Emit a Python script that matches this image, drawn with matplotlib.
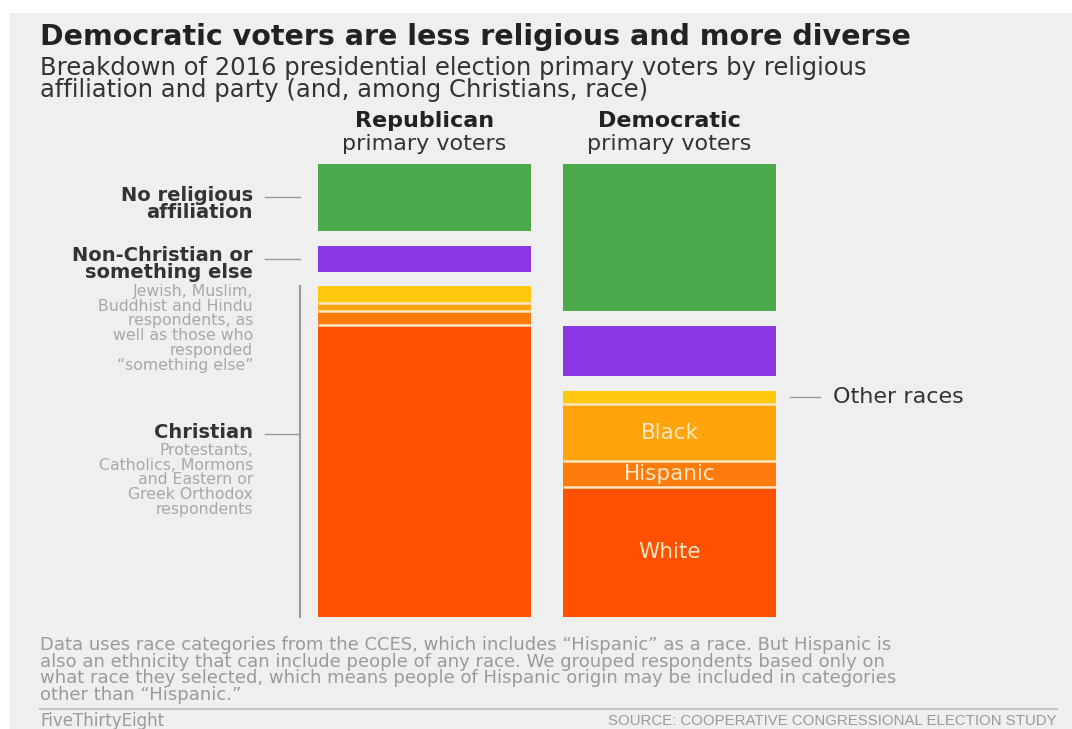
import numpy as np
import matplotlib
matplotlib.use("Agg")
import matplotlib.pyplot as plt
from matplotlib.patches import Rectangle
from matplotlib.transforms import blended_transform_factory

W, H = 1072, 729

parties = ["Republican", "Democratic"]
# share of primary voters (%)
no_religion = [15.8, 34.8]
non_christian = [6.1, 11.8]
other_races = [4.0, 3.1]
black = [1.9, 13.5]
hispanic = [3.3, 6.1]
white = [68.9, 30.7]

segment_names = ["No religious affiliation", "Non-Christian or something else",
                 "Other races", "Black", "Hispanic", "White"]
segment_values = [no_religion, non_christian, other_races, black, hispanic, white]
segment_colors = ["#4ba84b", "#8a37e6", "#ffc80c", "#ffa40a", "#ff7c0c", "#ff5100"]
GAP = 3.5  # empty space between the religion groups, in data units

BG = "#efefef"
DARK = "#222222"
LABEL = "#333333"
LIGHT = "#a8a8a8"
CREAM = "#fde6c2"
SANS = "DejaVu Sans"


def fx(px):
    return px / W


def fy(py):
    return 1 - py / H


def block(xpx, ypx, text, size, step, **kw):
    # multi-line text; ypx is the middle of the first line, step the line pitch in px
    em = size * 100 / 72
    ls = (step - 0.208 * em) / (0.76 * em)
    return fig.text(fx(xpx), fy(ypx - 0.40 * em), text, fontsize=size, linespacing=ls,
                    va="top", family=SANS, **kw)


fig = plt.figure(figsize=(W / 100, H / 100), dpi=100, facecolor="white")
fig.patches.append(Rectangle((fx(10), 0), 1 - fx(10), fy(13), transform=fig.transFigure,
                             facecolor=BG, edgecolor="none", zorder=-10))

ax = fig.add_axes([fx(302), fy(617), fx(792) - fx(302), fy(164) - fy(617)])
ax.set_facecolor("none")
ax.axis("off")

x = np.arange(len(parties))
start = np.zeros(len(parties))
starts = []
for i, (vals, color) in enumerate(zip(segment_values, segment_colors)):
    if i in (1, 2):
        start = start + GAP
    vals = np.array(vals)
    ax.bar(x, vals, bottom=start, width=0.87, color=color, linewidth=0)
    starts.append(start.copy())
    start = start + vals
total = start.max()
ax.set_xlim(-0.5, 1.5)
ax.set_ylim(total, 0)

# thin cream separators between the race slices
for k in (3, 4, 5):
    for j in x:
        ax.hlines(starts[k][j], j - 0.435, j + 0.435, color=CREAM, linewidth=1.8)

# labels inside the Democratic bar
for k in (3, 4, 5):
    mid = starts[k][1] + segment_values[k][1] / 2
    ax.text(1, mid, segment_names[k], ha="center", va="center", color=CREAM,
            fontsize=15.5, family=SANS)

# "Other races" callout
mix = blended_transform_factory(fig.transFigure, ax.transData)
mid_other = starts[2][1] + other_races[1] / 2
ax.plot([fx(790), fx(820)], [mid_other, mid_other], color="#999999", lw=1,
        transform=mix, clip_on=False)
ax.text(fx(833), mid_other, "Other races", transform=mix, ha="left", va="center",
        color=LABEL, fontsize=16, family=SANS)

# left-hand labels for the religion groups
mid_none = no_religion[0] / 2
mid_nonc = starts[1][0] + non_christian[0] / 2
for mid in (mid_none, mid_nonc):
    ax.plot([fx(265), fx(300)], [mid, mid], color="#999999", lw=1,
            transform=mix, clip_on=False)
ax.plot([fx(300), fx(300)], [starts[2][0], total], color="#999999", lw=1.5,
        transform=mix, clip_on=False)
ax.plot([fx(265), fx(300)], [fy(434), fy(434)], color="#999999", lw=1,
        transform=fig.transFigure, clip_on=False)

RX = 253
block(RX, 194, "No religious\naffiliation", 14, 17, ha="right", color=LABEL, weight="bold")
block(RX, 254, "Non-Christian or\nsomething else", 14, 17, ha="right", color=LABEL,
      weight="bold")
block(RX, 290, "Jewish, Muslim,\nBuddhist and Hindu\nrespondents, as\nwell as those who\n"
      "responded\n\u201csomething else\u201d", 11.3, 15.0, ha="right", color=LIGHT)
block(RX, 431, "Christian", 14, 17, ha="right", color=LABEL, weight="bold")
block(RX, 449, "Protestants,\nCatholics, Mormons\nand Eastern or\nGreek Orthodox\n"
      "respondents", 11.3, 15.0, ha="right", color=LIGHT)

# column headers
for j, name in enumerate(parties):
    cx = ax.transData.transform((j, 0))[0] / W
    fig.text(cx, fy(121), name, ha="center", va="center", color=DARK, fontsize=16,
             weight="bold", family=SANS)
    fig.text(cx, fy(144), "primary voters", ha="center", va="center", color=LABEL,
             fontsize=16, family=SANS)

# title and subtitle
fig.text(fx(40), fy(37), "Democratic voters are less religious and more diverse",
         ha="left", va="center", color=DARK, fontsize=20.5, weight="bold", family=SANS)
block(40, 66, "Breakdown of 2016 presidential election primary voters by religious\n"
      "affiliation and party (and, among Christians, race)", 17.5, 21.5, ha="left",
      color=LABEL)

# footnote
note = ("Data uses race categories from the CCES, which includes \u201cHispanic\u201d as a race. But Hispanic is\n"
        "also an ethnicity that can include people of any race. We grouped respondents based only on\n"
        "what race they selected, which means people of Hispanic origin may be included in categories\n"
        "other than \u201cHispanic.\u201d")
block(40, 643, note, 13, 16.3, ha="left", color="#9a9a9a")

fig.add_artist(plt.Line2D([fx(40), fx(1057)], [fy(709), fy(709)], color="#c4c4c4", lw=1.5,
                          transform=fig.transFigure))
fig.text(fx(40), fy(721), "FiveThirtyEight", ha="left", va="center", color="#9a9a9a",
         fontsize=12, family=SANS)
fig.text(fx(1057), fy(721), "SOURCE: COOPERATIVE CONGRESSIONAL ELECTION STUDY", ha="right",
         va="center", color="#9a9a9a", fontsize=10.8, family="Liberation Sans")

fig.savefig("out.png", dpi=100, facecolor="white")
